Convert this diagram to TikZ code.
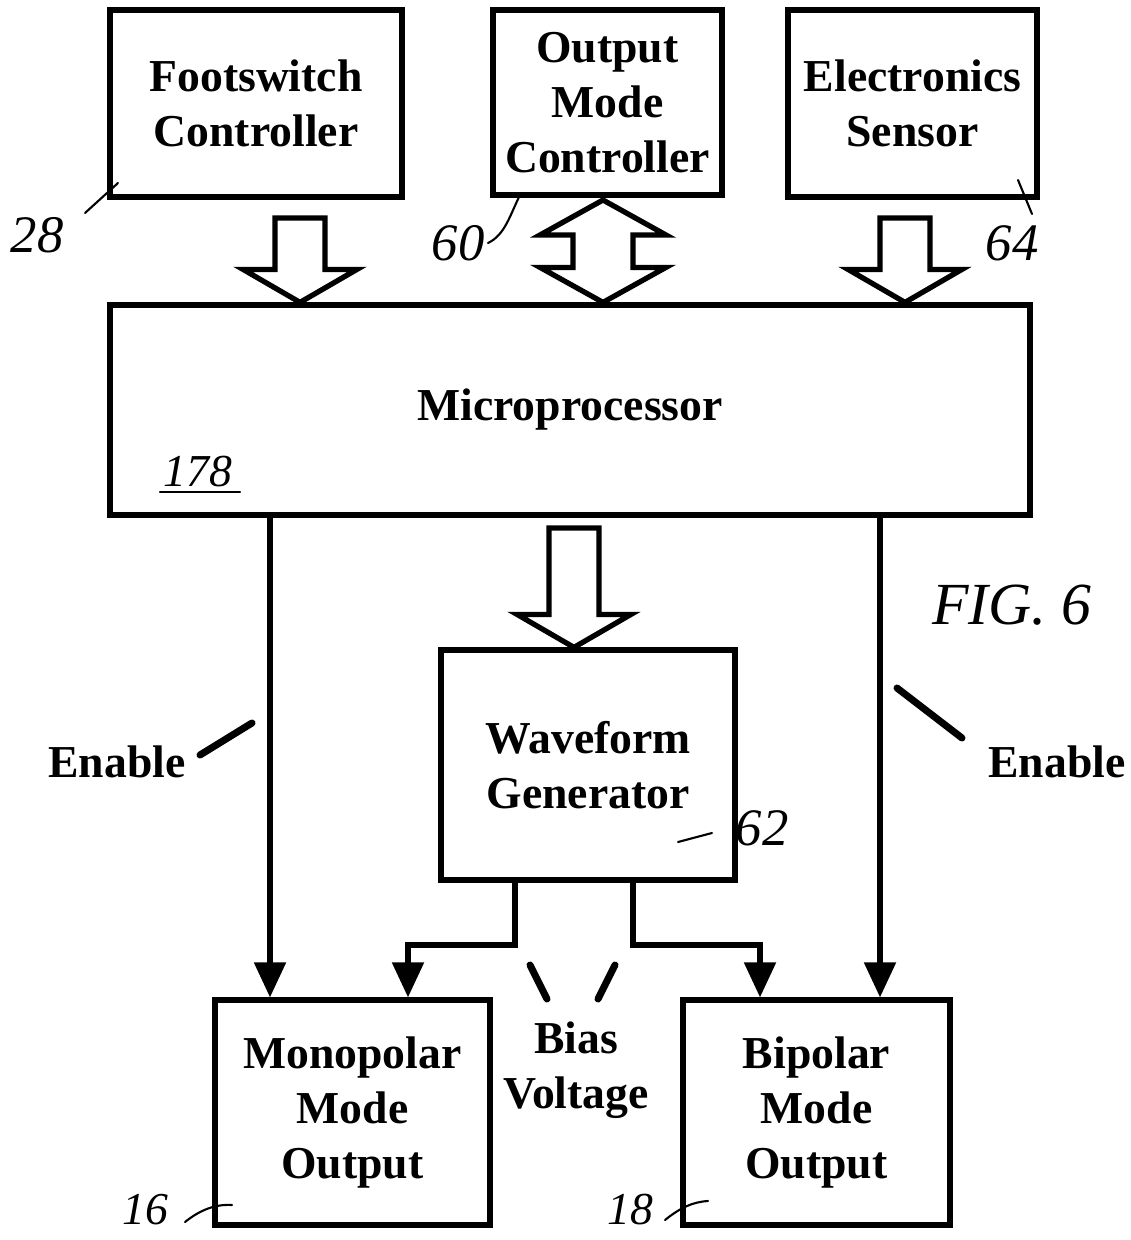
\documentclass[tikz,border=0pt]{standalone}
\usepackage{fontspec}
\setmainfont{Liberation Serif}
\usetikzlibrary{arrows.meta,calc,positioning}

\begin{document}
\begin{tikzpicture}[x=0.02cm,y=-0.02cm,
  box/.style={draw,line width=3pt,align=center,inner sep=0pt,
    font=\bfseries\fontsize{26}{31.3}\selectfont},
  txt/.style={align=center,font=\bfseries\fontsize{26}{31.3}\selectfont},
  wire/.style={line width=3pt,-{Triangle[length=0.7cm,width=0.62cm]}},
  tick/.style={line width=4pt,line cap=round},
  lead/.style={line width=1.2pt,line cap=round},
  hand/.style={font=\itshape\fontsize{30}{30}\selectfont},
  bigarrow/.style={line width=3pt,line join=miter,to path={
    let \p1=(\tikztostart), \p2=(\tikztotarget) in
    ({\x1-0.5cm},\y1) -- ({\x1+0.5cm},\y1) -- ({\x1+0.5cm},{\y2+0.66cm})
    -- ({\x1+1.14cm},{\y2+0.66cm}) -- (\x2,\y2) -- ({\x1-1.14cm},{\y2+0.66cm})
    -- ({\x1-0.5cm},{\y2+0.66cm}) -- cycle}},
  dblarrow/.style={line width=3pt,line join=miter,to path={
    let \p1=(\tikztostart), \p2=(\tikztotarget) in
    (\x1,\y1) -- ({\x1+1.26cm},{\y1-0.7cm}) -- ({\x1+0.6cm},{\y1-0.7cm})
    -- ({\x1+0.6cm},{\y2+0.7cm}) -- ({\x1+1.26cm},{\y2+0.7cm}) -- (\x2,\y2)
    -- ({\x1-1.26cm},{\y2+0.7cm}) -- ({\x1-0.6cm},{\y2+0.7cm})
    -- ({\x1-0.6cm},{\y1-0.7cm}) -- ({\x1-1.26cm},{\y1-0.7cm}) -- cycle}},
]
  \useasboundingbox (0,0) rectangle (1131,1240);

  % --- Blocks ---
  \node[box,minimum width=5.84cm,minimum height=3.74cm] (foot) at (256,103.5)
       {Footswitch\\Controller};
  \node[box,minimum width=4.58cm,minimum height=3.7cm] (outmode) at (607.5,102.5)
       {Output\\Mode\\Controller};
  \node[box,minimum width=4.98cm,minimum height=3.74cm] (sensor) at (912.5,103.5)
       {Electronics\\Sensor};
  \node[box,minimum width=18.4cm,minimum height=4.2cm] (micro) at (570,410)
       {Microprocessor};
  \node[box,minimum width=5.88cm,minimum height=4.6cm] (wave) at (588,765)
       {Waveform\\Generator};
  \node[box,minimum width=5.5cm,minimum height=4.5cm] (mono) at (352.5,1112.5)
       {Monopolar\\Mode\\Output};
  \node[box,minimum width=5.34cm,minimum height=4.5cm] (bip) at (816.5,1112.5)
       {Bipolar\\Mode\\Output};

  % --- Block arrows into / out of the microprocessor ---
  \coordinate (fa) at (300,218);
  \coordinate (oa) at (603,200);
  \coordinate (sa) at (905,218);
  \coordinate (wa) at (574,528);
  \draw[bigarrow] (fa) to (fa |- micro.north);
  \draw[dblarrow] (oa) to (oa |- micro.north);
  \draw[bigarrow] (sa) to (sa |- micro.north);
  \draw[bigarrow] (wa) to (wa |- wave.north);

  % --- Enable lines ---
  \coordinate (el) at (270,0);
  \coordinate (er) at (880,0);
  \draw[wire] (el |- micro.south) -- (el |- mono.north);
  \draw[wire] (er |- micro.south) -- (er |- bip.north);

  % --- Bias voltage lines ---
  \coordinate (bl) at (515,945);
  \coordinate (br) at (633,945);
  \coordinate (ml) at (408,0);
  \coordinate (bb) at (760,0);
  \draw[wire] (bl |- wave.south) -- (bl) -| (ml |- mono.north);
  \draw[wire] (br |- wave.south) -- (br) -| (bb |- bip.north);

  % --- Labels ---
  \node[txt] (enl) at (117,762) {Enable};
  \node[txt] (enr) at (1057,762) {Enable};
  \node[txt] (bias) at (576,1070) {Bias\\Voltage};
  \draw[tick] (200,755) -- (252,723);
  \draw[tick] (897,688) -- (962,738);
  \draw[tick] (530,965) -- (547,999);
  \draw[tick] (615,965) -- (598,999);

  % --- Reference numerals ---
  \node[hand] (n28) at (37,235) {28};
  \draw[lead] (85,213) -- (118,183);
  \node[hand] (n60) at (458,243) {60};
  \draw[lead] (488,243) .. controls (505,235) and (510,215) .. (520,195);
  \node[hand] (n64) at (1012,243) {64};
  \draw[lead] (1018,180) -- (1032,214);
  \node[hand,font=\itshape\fontsize{26}{26}\selectfont] (n178) at (198,472) {178};
  \draw[lead] (160,492) -- (240,492);
  \node[hand] (n62) at (762,828) {62};
  \draw[lead] (678,842) -- (712,833);
  \node[hand,font=\itshape\fontsize{26}{26}\selectfont] (n16) at (145,1210) {16};
  \draw[lead] (185,1222) .. controls (200,1210) and (215,1204) .. (232,1205);
  \node[hand,font=\itshape\fontsize{26}{26}\selectfont] (n18) at (630,1210) {18};
  \draw[lead] (665,1220) .. controls (680,1208) and (692,1202) .. (708,1201);
  \node[hand,font=\itshape\fontsize{34}{34}\selectfont] (fig) at (1012,605) {FIG. 6};
\end{tikzpicture}
\end{document}
